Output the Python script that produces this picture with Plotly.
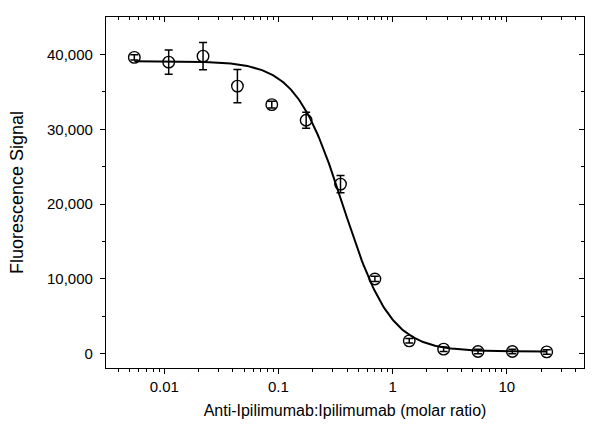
import numpy as np
import plotly.graph_objects as go

# Data
ratio = [0.00547, 0.01094, 0.02188, 0.04375, 0.0875, 0.175, 0.35, 0.7, 1.4, 2.8, 5.6, 11.2, 22.4]
signal = [39600, 38970, 39770, 35770, 33290, 31200, 22670, 10000, 1730, 620, 310, 310, 250]
signal_err = [350, 1630, 1820, 2230, 450, 1070, 1150, 350, 300, 300, 300, 300, 300]

# 4-parameter logistic fit parameters
fit_top = 39100
fit_bottom = 300
fit_ic50 = 0.37
fit_hill = 2.1

x_tick_vals = [0.01, 0.1, 1, 10]
x_tick_text = ["0.01", "0.1", "1", "10"]
y_tick_vals = [0, 10000, 20000, 30000, 40000]

x_range = [np.log10(0.00309), np.log10(47.5)]
y_range = [-1900, 45000]

x_minor = [m * 10.0 ** e for e in range(-3, 2) for m in range(2, 10)]
y_minor = [5000, 15000, 25000, 35000]

fit_x = np.logspace(np.log10(ratio[0]), np.log10(ratio[-1]), 300)
fit_y = fit_bottom + (fit_top - fit_bottom) / (1 + (fit_x / fit_ic50) ** fit_hill)

FONT = "Liberation Sans, Arial, sans-serif"

fig = go.Figure()
fig.add_trace(go.Scatter(x=fit_x, y=fit_y, mode="lines",
                         line=dict(color="black", width=2), showlegend=False,
                         hoverinfo="skip"))
fig.add_trace(go.Scatter(x=ratio, y=signal, mode="markers",
                         marker=dict(symbol="circle-open", size=11.5,
                                     line=dict(color="black", width=1.4), color="black"),
                         error_y=dict(type="data", array=signal_err, visible=True,
                                      color="black", thickness=1.5, width=4),
                         showlegend=False))
# invisible trace to create the mirrored frame axes
fig.add_trace(go.Scatter(x=[ratio[0]], y=[signal[0]], xaxis="x2", yaxis="y2",
                         mode="markers", marker=dict(opacity=0), showlegend=False,
                         hoverinfo="skip"))

axis_common = dict(showline=True, linecolor="black", linewidth=1.3, showgrid=False,
                   zeroline=False, tickcolor="black", tickwidth=1.2)

fig.update_layout(
    width=600, height=429,
    margin=dict(l=106, r=16, t=17, b=61),
    paper_bgcolor="white", plot_bgcolor="white",
    font=dict(family=FONT, color="#000000"),
    xaxis=dict(type="log", range=x_range, tickmode="array", tickvals=x_tick_vals,
               ticktext=x_tick_text, ticks="outside", ticklen=5,
               tickfont=dict(size=15, color="#000000"),
               minor=dict(tickmode="array", tickvals=x_minor, ticks="outside",
                          ticklen=3, tickcolor="black", tickwidth=1.1, showgrid=False),
               title=dict(text="Anti-Ipilimumab:Ipilimumab (molar ratio)",
                          font=dict(size=16, color="#000000"), standoff=10),
               **axis_common),
    yaxis=dict(range=y_range, tickmode="array", tickvals=y_tick_vals, tickformat=",d",
               ticks="outside", ticklen=5, tickfont=dict(size=15, color="#000000"),
               ticklabelstandoff=4,
               minor=dict(tickmode="array", tickvals=y_minor, ticks="outside",
                          ticklen=3, tickcolor="black", tickwidth=1.1, showgrid=False),
               title=dict(text="Fluorescence Signal", font=dict(size=18, color="#000000"),
                          standoff=18),
               **axis_common),
    xaxis2=dict(type="log", range=x_range, overlaying="x", side="top", anchor="y2",
                tickmode="array", tickvals=x_tick_vals, showticklabels=False,
                ticks="inside", ticklen=5,
                minor=dict(tickmode="array", tickvals=x_minor, ticks="inside",
                           ticklen=3, tickcolor="black", tickwidth=1.1, showgrid=False),
                **axis_common),
    yaxis2=dict(range=y_range, overlaying="y", side="right", anchor="x2",
                tickmode="array", tickvals=y_tick_vals, showticklabels=False,
                ticks="inside", ticklen=5,
                minor=dict(tickmode="array", tickvals=y_minor, ticks="inside",
                           ticklen=3, tickcolor="black", tickwidth=1.1, showgrid=False),
                **axis_common),
)

fig.write_html("out.html")
